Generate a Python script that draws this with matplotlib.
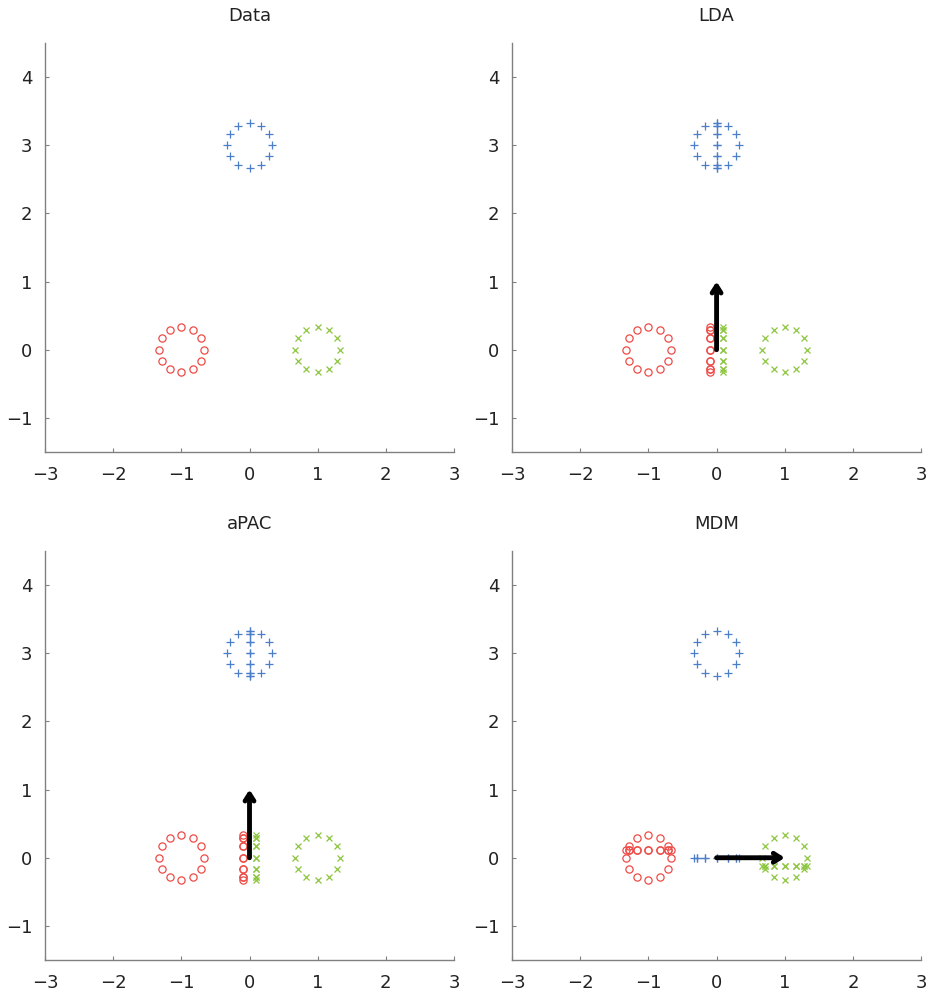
import numpy as np
import matplotlib
matplotlib.use("Agg")
import matplotlib.pyplot as plt

# Three classes, each 12 points on a ring of radius 0.33
angles_deg = [0, 30, 60, 90, 120, 150, 180, 210, 240, 270, 300, 330]
radius = 0.33
centers = {"blue": (0.0, 3.0), "red": (-1.0, 0.0), "green": (1.0, 0.0)}
colors = {"blue": "#4a7ec9", "red": "#ee4b47", "green": "#8dc63f"}
markers = {"blue": "+", "red": "o", "green": "x"}
msizes = {"blue": 5.5, "red": 5.2, "green": 4.0}

titles = ["Data", "LDA", "aPAC", "MDM"]
# projection direction of each method (None for the raw data)
directions = [None, (0.0, 1.0), (0.0, 1.0), (1.0, 0.0)]
# small offsets that keep the projected classes apart visually
offsets_lda = {"blue": 0.0, "red": -0.1, "green": 0.1}
offsets_mdm = {"blue": 0.0, "red": 0.12, "green": -0.12}

xticks = [-3, -2, -1, 0, 1, 2, 3]
yticks = [-1, 0, 1, 2, 3, 4]

fig = plt.figure(figsize=(9.26, 9.94), dpi=100)
positions = [
    [0.0486, 0.5453, 0.4417, 0.4115],
    [0.5530, 0.5453, 0.4417, 0.4115],
    [0.0486, 0.0342, 0.4417, 0.4115],
    [0.5530, 0.0342, 0.4417, 0.4115],
]

theta = np.deg2rad(angles_deg)
ring_x = radius * np.cos(theta)
ring_y = radius * np.sin(theta)

for pos, title, d in zip(positions, titles, directions):
    ax = fig.add_axes(pos)
    for key in ["blue", "red", "green"]:
        cx, cy = centers[key]
        px = cx + ring_x
        py = cy + ring_y
        style = dict(linestyle="none", marker=markers[key], color=colors[key],
                     mfc="none", ms=msizes[key], mew=0.9)
        ax.plot(px, py, **style)
        if d is not None:
            dx, dy = d
            proj = px * dx + py * dy
            if dx == 0:  # vertical direction
                qx = proj * dx + offsets_lda[key]
                qy = proj * dy
            else:
                qx = proj * dx
                qy = proj * dy + offsets_mdm[key]
            ax.plot(qx, qy, **style)
    if d is not None:
        ax.annotate("", xy=d, xytext=(0, 0),
                    arrowprops=dict(arrowstyle="->,head_length=0.5,head_width=0.32",
                                    color="black", lw=3.5, shrinkA=0, shrinkB=0),
                    zorder=5)
    ax.set_xlim(-3, 3)
    ax.set_ylim(-1.5, 4.5)
    ax.set_xticks(xticks)
    ax.set_yticks(yticks)
    ax.set_xticklabels([f"\u2212{abs(t)}" if t < 0 else str(t) for t in xticks])
    ax.set_yticklabels([f"\u2212{abs(t)}" if t < 0 else str(t) for t in yticks])
    for s in ["top", "right"]:
        ax.spines[s].set_visible(False)
    for s in ["left", "bottom"]:
        ax.spines[s].set_color("#808080")
        ax.spines[s].set_linewidth(1.0)
    ax.tick_params(axis="both", direction="in", length=3, color="#808080",
                   labelsize=13, labelcolor="#222222")
    ax.tick_params(axis="x", pad=10)
    ax.tick_params(axis="y", pad=9)
    ax.set_title(title, fontsize=13, pad=16, color="#222222")

fig.savefig("out.png", dpi=100)
